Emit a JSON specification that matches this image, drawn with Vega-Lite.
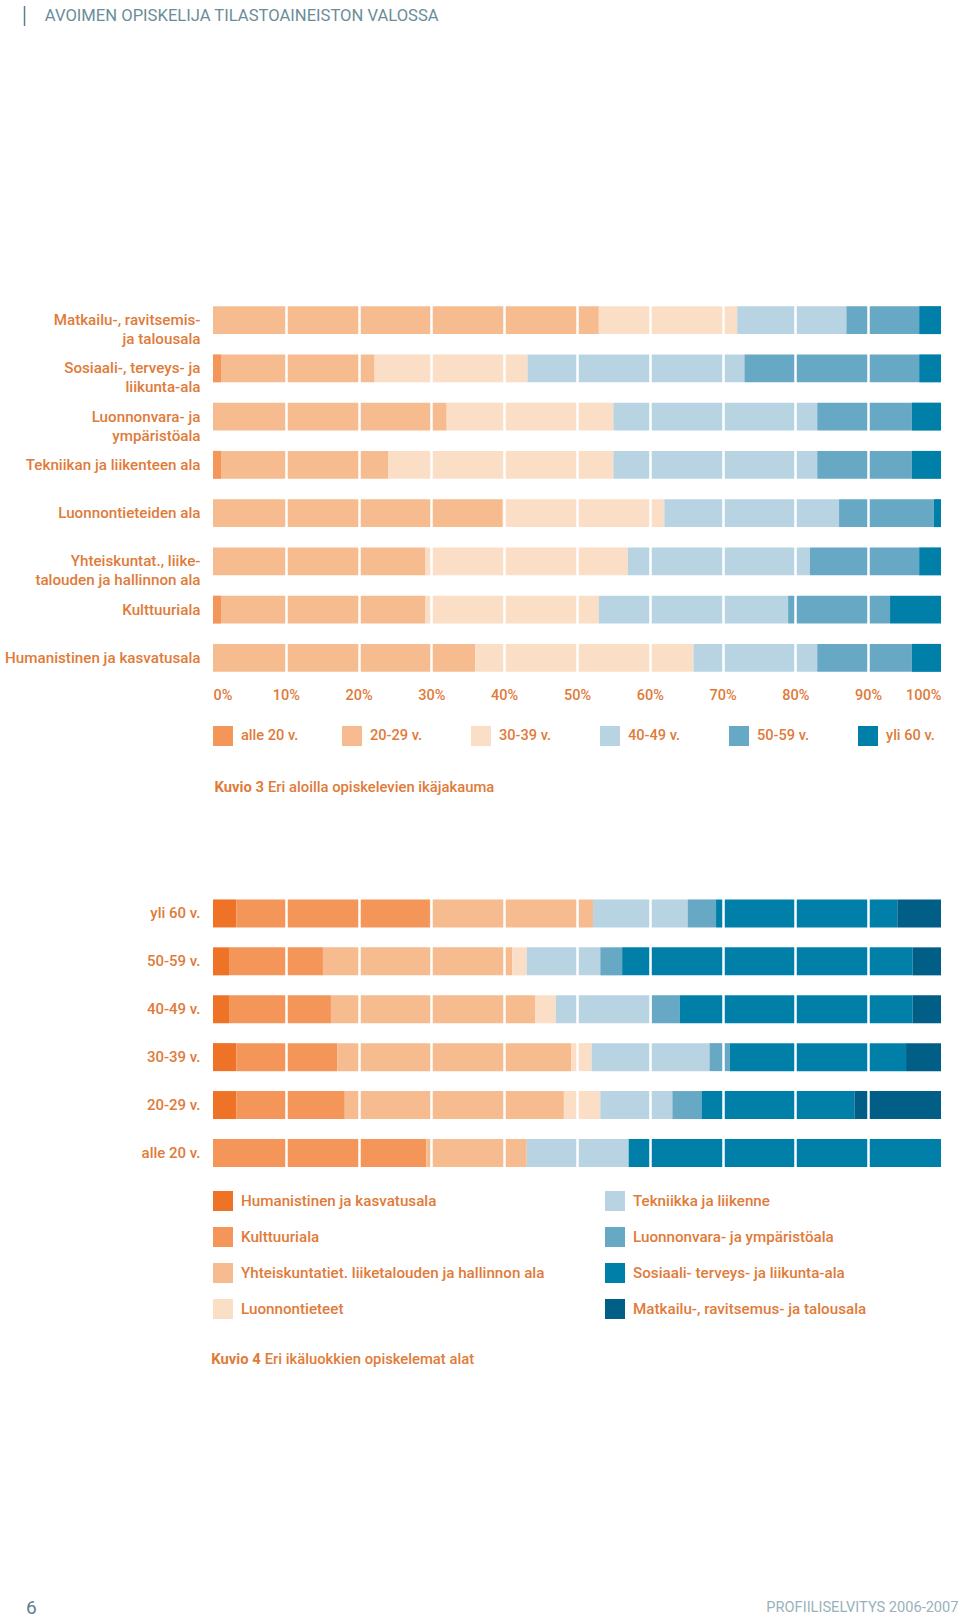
{
  "$schema": "https://vega.github.io/schema/vega-lite/v6.json",
  "background": "white",
  "padding": {"left": 4, "top": 5, "right": 0, "bottom": 0},
  "autosize": {"type": "pad"},
  "config": {
    "view": {"stroke": null},
    "font": "Roboto",
    "text": {"font": "Roboto"},
    "axis": {"labelFont": "Roboto"}
  },
  "datasets": {
    "ikajakauma": [
      {"ala": "Matkailu-, ravitsemis- ja talousala", "ika": "alle 20 v.", "osuus": 0},
      {"ala": "Matkailu-, ravitsemis- ja talousala", "ika": "20-29 v.", "osuus": 53.0},
      {"ala": "Matkailu-, ravitsemis- ja talousala", "ika": "30-39 v.", "osuus": 19.0},
      {"ala": "Matkailu-, ravitsemis- ja talousala", "ika": "40-49 v.", "osuus": 15.0},
      {"ala": "Matkailu-, ravitsemis- ja talousala", "ika": "50-59 v.", "osuus": 10.0},
      {"ala": "Matkailu-, ravitsemis- ja talousala", "ika": "yli 60 v.", "osuus": 3.0},
      {"ala": "Sosiaali-, terveys- ja liikunta-ala", "ika": "alle 20 v.", "osuus": 1.1},
      {"ala": "Sosiaali-, terveys- ja liikunta-ala", "ika": "20-29 v.", "osuus": 21.1},
      {"ala": "Sosiaali-, terveys- ja liikunta-ala", "ika": "30-39 v.", "osuus": 21.0},
      {"ala": "Sosiaali-, terveys- ja liikunta-ala", "ika": "40-49 v.", "osuus": 29.8},
      {"ala": "Sosiaali-, terveys- ja liikunta-ala", "ika": "50-59 v.", "osuus": 24.0},
      {"ala": "Sosiaali-, terveys- ja liikunta-ala", "ika": "yli 60 v.", "osuus": 3.0},
      {"ala": "Luonnonvara- ja ympäristöala", "ika": "alle 20 v.", "osuus": 0},
      {"ala": "Luonnonvara- ja ympäristöala", "ika": "20-29 v.", "osuus": 32.1},
      {"ala": "Luonnonvara- ja ympäristöala", "ika": "30-39 v.", "osuus": 22.9},
      {"ala": "Luonnonvara- ja ympäristöala", "ika": "40-49 v.", "osuus": 28.0},
      {"ala": "Luonnonvara- ja ympäristöala", "ika": "50-59 v.", "osuus": 13.0},
      {"ala": "Luonnonvara- ja ympäristöala", "ika": "yli 60 v.", "osuus": 4.0},
      {"ala": "Tekniikan ja liikenteen ala", "ika": "alle 20 v.", "osuus": 1.1},
      {"ala": "Tekniikan ja liikenteen ala", "ika": "20-29 v.", "osuus": 23.0},
      {"ala": "Tekniikan ja liikenteen ala", "ika": "30-39 v.", "osuus": 30.9},
      {"ala": "Tekniikan ja liikenteen ala", "ika": "40-49 v.", "osuus": 28.0},
      {"ala": "Tekniikan ja liikenteen ala", "ika": "50-59 v.", "osuus": 13.0},
      {"ala": "Tekniikan ja liikenteen ala", "ika": "yli 60 v.", "osuus": 4.0},
      {"ala": "Luonnontieteiden ala", "ika": "alle 20 v.", "osuus": 0},
      {"ala": "Luonnontieteiden ala", "ika": "20-29 v.", "osuus": 39.8},
      {"ala": "Luonnontieteiden ala", "ika": "30-39 v.", "osuus": 22.2},
      {"ala": "Luonnontieteiden ala", "ika": "40-49 v.", "osuus": 24.0},
      {"ala": "Luonnontieteiden ala", "ika": "50-59 v.", "osuus": 13.0},
      {"ala": "Luonnontieteiden ala", "ika": "yli 60 v.", "osuus": 1.0},
      {"ala": "Yhteiskuntat., liiketalouden ja hallinnon ala", "ika": "alle 20 v.", "osuus": 0},
      {"ala": "Yhteiskuntat., liiketalouden ja hallinnon ala", "ika": "20-29 v.", "osuus": 29.2},
      {"ala": "Yhteiskuntat., liiketalouden ja hallinnon ala", "ika": "30-39 v.", "osuus": 27.8},
      {"ala": "Yhteiskuntat., liiketalouden ja hallinnon ala", "ika": "40-49 v.", "osuus": 25.0},
      {"ala": "Yhteiskuntat., liiketalouden ja hallinnon ala", "ika": "50-59 v.", "osuus": 15.0},
      {"ala": "Yhteiskuntat., liiketalouden ja hallinnon ala", "ika": "yli 60 v.", "osuus": 3.0},
      {"ala": "Kulttuuriala", "ika": "alle 20 v.", "osuus": 1.1},
      {"ala": "Kulttuuriala", "ika": "20-29 v.", "osuus": 28.1},
      {"ala": "Kulttuuriala", "ika": "30-39 v.", "osuus": 23.8},
      {"ala": "Kulttuuriala", "ika": "40-49 v.", "osuus": 26.0},
      {"ala": "Kulttuuriala", "ika": "50-59 v.", "osuus": 14.0},
      {"ala": "Kulttuuriala", "ika": "yli 60 v.", "osuus": 7.0},
      {"ala": "Humanistinen ja kasvatusala", "ika": "alle 20 v.", "osuus": 0},
      {"ala": "Humanistinen ja kasvatusala", "ika": "20-29 v.", "osuus": 36.0},
      {"ala": "Humanistinen ja kasvatusala", "ika": "30-39 v.", "osuus": 30.0},
      {"ala": "Humanistinen ja kasvatusala", "ika": "40-49 v.", "osuus": 17.0},
      {"ala": "Humanistinen ja kasvatusala", "ika": "50-59 v.", "osuus": 13.0},
      {"ala": "Humanistinen ja kasvatusala", "ika": "yli 60 v.", "osuus": 4.0}
    ],
    "alat": [
      {"ikaluokka": "yli 60 v.", "ala": "Humanistinen ja kasvatusala", "osuus": 3.2},
      {"ikaluokka": "yli 60 v.", "ala": "Kulttuuriala", "osuus": 26.6},
      {"ikaluokka": "yli 60 v.", "ala": "Yhteiskuntatiet. liiketalouden ja hallinnon ala", "osuus": 22.4},
      {"ikaluokka": "yli 60 v.", "ala": "Luonnontieteet", "osuus": 0},
      {"ikaluokka": "yli 60 v.", "ala": "Tekniikka ja liikenne", "osuus": 13.0},
      {"ikaluokka": "yli 60 v.", "ala": "Luonnonvara- ja ympäristöala", "osuus": 3.9},
      {"ikaluokka": "yli 60 v.", "ala": "Sosiaali- terveys- ja liikunta-ala", "osuus": 24.9},
      {"ikaluokka": "yli 60 v.", "ala": "Matkailu-, ravitsemus- ja talousala", "osuus": 6.0},
      {"ikaluokka": "50-59 v.", "ala": "Humanistinen ja kasvatusala", "osuus": 2.2},
      {"ikaluokka": "50-59 v.", "ala": "Kulttuuriala", "osuus": 12.9},
      {"ikaluokka": "50-59 v.", "ala": "Yhteiskuntatiet. liiketalouden ja hallinnon ala", "osuus": 26.0},
      {"ikaluokka": "50-59 v.", "ala": "Luonnontieteet", "osuus": 2.0},
      {"ikaluokka": "50-59 v.", "ala": "Tekniikka ja liikenne", "osuus": 10.1},
      {"ikaluokka": "50-59 v.", "ala": "Luonnonvara- ja ympäristöala", "osuus": 3.0},
      {"ikaluokka": "50-59 v.", "ala": "Sosiaali- terveys- ja liikunta-ala", "osuus": 39.9},
      {"ikaluokka": "50-59 v.", "ala": "Matkailu-, ravitsemus- ja talousala", "osuus": 3.9},
      {"ikaluokka": "40-49 v.", "ala": "Humanistinen ja kasvatusala", "osuus": 2.2},
      {"ikaluokka": "40-49 v.", "ala": "Kulttuuriala", "osuus": 14.0},
      {"ikaluokka": "40-49 v.", "ala": "Yhteiskuntatiet. liiketalouden ja hallinnon ala", "osuus": 28.1},
      {"ikaluokka": "40-49 v.", "ala": "Luonnontieteet", "osuus": 2.8},
      {"ikaluokka": "40-49 v.", "ala": "Tekniikka ja liikenne", "osuus": 13.2},
      {"ikaluokka": "40-49 v.", "ala": "Luonnonvara- ja ympäristöala", "osuus": 3.8},
      {"ikaluokka": "40-49 v.", "ala": "Sosiaali- terveys- ja liikunta-ala", "osuus": 32.0},
      {"ikaluokka": "40-49 v.", "ala": "Matkailu-, ravitsemus- ja talousala", "osuus": 3.9},
      {"ikaluokka": "30-39 v.", "ala": "Humanistinen ja kasvatusala", "osuus": 3.2},
      {"ikaluokka": "30-39 v.", "ala": "Kulttuuriala", "osuus": 13.9},
      {"ikaluokka": "30-39 v.", "ala": "Yhteiskuntatiet. liiketalouden ja hallinnon ala", "osuus": 32.1},
      {"ikaluokka": "30-39 v.", "ala": "Luonnontieteet", "osuus": 2.8},
      {"ikaluokka": "30-39 v.", "ala": "Tekniikka ja liikenne", "osuus": 16.2},
      {"ikaluokka": "30-39 v.", "ala": "Luonnonvara- ja ympäristöala", "osuus": 2.8},
      {"ikaluokka": "30-39 v.", "ala": "Sosiaali- terveys- ja liikunta-ala", "osuus": 24.2},
      {"ikaluokka": "30-39 v.", "ala": "Matkailu-, ravitsemus- ja talousala", "osuus": 4.8},
      {"ikaluokka": "20-29 v.", "ala": "Humanistinen ja kasvatusala", "osuus": 3.2},
      {"ikaluokka": "20-29 v.", "ala": "Kulttuuriala", "osuus": 14.9},
      {"ikaluokka": "20-29 v.", "ala": "Yhteiskuntatiet. liiketalouden ja hallinnon ala", "osuus": 30.1},
      {"ikaluokka": "20-29 v.", "ala": "Luonnontieteet", "osuus": 5.0},
      {"ikaluokka": "20-29 v.", "ala": "Tekniikka ja liikenne", "osuus": 9.9},
      {"ikaluokka": "20-29 v.", "ala": "Luonnonvara- ja ympäristöala", "osuus": 4.0},
      {"ikaluokka": "20-29 v.", "ala": "Sosiaali- terveys- ja liikunta-ala", "osuus": 21.0},
      {"ikaluokka": "20-29 v.", "ala": "Matkailu-, ravitsemus- ja talousala", "osuus": 11.9},
      {"ikaluokka": "alle 20 v.", "ala": "Humanistinen ja kasvatusala", "osuus": 0},
      {"ikaluokka": "alle 20 v.", "ala": "Kulttuuriala", "osuus": 29.3},
      {"ikaluokka": "alle 20 v.", "ala": "Yhteiskuntatiet. liiketalouden ja hallinnon ala", "osuus": 13.8},
      {"ikaluokka": "alle 20 v.", "ala": "Luonnontieteet", "osuus": 0},
      {"ikaluokka": "alle 20 v.", "ala": "Tekniikka ja liikenne", "osuus": 14.0},
      {"ikaluokka": "alle 20 v.", "ala": "Luonnonvara- ja ympäristöala", "osuus": 0},
      {"ikaluokka": "alle 20 v.", "ala": "Sosiaali- terveys- ja liikunta-ala", "osuus": 42.9},
      {"ikaluokka": "alle 20 v.", "ala": "Matkailu-, ravitsemus- ja talousala", "osuus": 0}
    ],
    "ikaryhmat": [
      {"ika": "alle 20 v."}, {"ika": "20-29 v."}, {"ika": "30-39 v."},
      {"ika": "40-49 v."}, {"ika": "50-59 v."}, {"ika": "yli 60 v."}
    ],
    "alaluokat": [
      {"ala": "Humanistinen ja kasvatusala", "ryhma": "vasen"},
      {"ala": "Kulttuuriala", "ryhma": "vasen"},
      {"ala": "Yhteiskuntatiet. liiketalouden ja hallinnon ala", "ryhma": "vasen"},
      {"ala": "Luonnontieteet", "ryhma": "vasen"},
      {"ala": "Tekniikka ja liikenne", "ryhma": "oikea"},
      {"ala": "Luonnonvara- ja ympäristöala", "ryhma": "oikea"},
      {"ala": "Sosiaali- terveys- ja liikunta-ala", "ryhma": "oikea"},
      {"ala": "Matkailu-, ravitsemus- ja talousala", "ryhma": "oikea"}
    ]
  },
  "spacing": 269,
  "vconcat": [
    {
      "width": 728,
      "height": 20,
      "data": {"values": [{"otsikko": "AVOIMEN OPISKELIJA TILASTOAINEISTON VALOSSA"}]},
      "layer": [
        {
          "mark": {"type": "rule", "color": "#5E808C", "strokeWidth": 1.5},
          "encoding": {
            "x": {"datum": -25.89, "type": "quantitative", "scale": {"domain": [0, 100], "nice": false, "zero": false}, "axis": null}
          }
        },
        {
          "mark": {"type": "text", "align": "left", "baseline": "middle", "fontSize": 16.6, "color": "#6B8D99"},
          "encoding": {
            "x": {"datum": -23.1, "type": "quantitative"},
            "text": {"field": "otsikko"}
          }
        }
      ]
    },
    {
      "spacing": 18,
      "vconcat": [
        {
          "width": 728,
          "height": 386,
          "data": {"name": "ikajakauma"},
          "transform": [{"window": [{"op": "row_number", "as": "jarj"}], "groupby": ["ala"]}],
          "mark": {"type": "bar"},
          "encoding": {
            "y": {
              "field": "ala", "type": "nominal",
              "sort": ["Matkailu-, ravitsemis- ja talousala", "Sosiaali-, terveys- ja liikunta-ala", "Luonnonvara- ja ympäristöala", "Tekniikan ja liikenteen ala", "Luonnontieteiden ala", "Yhteiskuntat., liiketalouden ja hallinnon ala", "Kulttuuriala", "Humanistinen ja kasvatusala"],
              "scale": {"paddingInner": 0.42, "paddingOuter": 0.21},
              "axis": {
                "title": null, "domain": false, "ticks": false,
                "labelColor": "#E07B3A", "labelFontSize": 15.2, "labelFontWeight": 500, "labelPadding": 13,
                "labelLineHeight": 19, "labelLimit": 0,
                "minExtent": 200, "maxExtent": 200,
                "labelExpr": "datum.label == 'Matkailu-, ravitsemis- ja talousala' ? ['Matkailu-, ravitsemis-', 'ja talousala'] : datum.label == 'Sosiaali-, terveys- ja liikunta-ala' ? ['Sosiaali-, terveys- ja', 'liikunta-ala'] : datum.label == 'Luonnonvara- ja ympäristöala' ? ['Luonnonvara- ja', 'ympäristöala'] : datum.label == 'Yhteiskuntat., liiketalouden ja hallinnon ala' ? ['Yhteiskuntat., liike-', 'talouden ja hallinnon ala'] : datum.label"
              }
            },
            "x": {
              "field": "osuus", "type": "quantitative", "stack": "zero",
              "scale": {"domain": [0, 100], "nice": false},
              "axis": {
                "title": null, "values": [0, 10, 20, 30, 40, 50, 60, 70, 80, 90, 100],
                "labelExpr": "datum.value + '%'",
                "domain": false, "ticks": false, "labelFlush": true,
                "labelColor": "#E07B3A", "labelFontSize": 14.5, "labelFontWeight": 500, "labelPadding": 6,
                "grid": true, "gridColor": "white", "gridWidth": 2.5,
                "gridOpacity": {"condition": {"test": "datum.value === 0 || datum.value === 100", "value": 0}, "value": 1},
                "zindex": 1, "minExtent": 26, "maxExtent": 26
              }
            },
            "order": {"field": "jarj", "type": "quantitative", "sort": "ascending"},
            "color": {
              "field": "ika", "type": "nominal",
              "scale": {
                "domain": ["alle 20 v.", "20-29 v.", "30-39 v.", "40-49 v.", "50-59 v.", "yli 60 v.", "Humanistinen ja kasvatusala", "Kulttuuriala", "Yhteiskuntatiet. liiketalouden ja hallinnon ala", "Luonnontieteet", "Tekniikka ja liikenne", "Luonnonvara- ja ympäristöala", "Sosiaali- terveys- ja liikunta-ala", "Matkailu-, ravitsemus- ja talousala"],
                "range": ["#F4965A", "#F6BC90", "#FBDEC6", "#B8D4E2", "#67A8C5", "#0080A8", "#EE7326", "#F4965A", "#F6BC90", "#FBDEC6", "#B8D4E2", "#67A8C5", "#0080A8", "#005E87"]
              },
              "legend": null
            }
          }
        },
        {
          "spacing": 32,
          "vconcat": [
            {
              "width": 665,
              "height": 20,
              "data": {"name": "ikaryhmat"},
              "encoding": {
                "x": {
                  "field": "ika", "type": "nominal",
                  "sort": ["alle 20 v.", "20-29 v.", "30-39 v.", "40-49 v.", "50-59 v.", "yli 60 v."],
                  "scale": {"type": "point", "padding": 0.0775},
                  "axis": null
                }
              },
              "layer": [
                {
                  "mark": {"type": "square", "size": 400, "filled": true, "opacity": 1},
                  "encoding": {
                    "color": {"field": "ika", "type": "nominal", "legend": null}
                  }
                },
                {
                  "mark": {"type": "text", "align": "left", "baseline": "middle", "dx": 18, "fontSize": 14.6, "fontWeight": 500, "color": "#E07B3A"},
                  "encoding": {"text": {"field": "ika"}}
                }
              ]
            },
            {
              "spacing": 91.5,
              "vconcat": [
                {
                  "width": 728,
                  "height": 20,
                  "data": {"values": [{"kuvio": "Kuvio 3", "teksti": "Eri aloilla opiskelevien ikäjakauma"}]},
                  "encoding": {
                    "x": {"datum": 7.28, "type": "quantitative", "scale": {"domain": [0, 100], "nice": false, "zero": false}, "axis": null}
                  },
                  "layer": [
                    {
                      "mark": {"type": "text", "align": "right", "baseline": "middle", "dx": -2, "fontSize": 14.8, "fontWeight": "bold", "color": "#E07B3A"},
                      "encoding": {"text": {"field": "kuvio"}}
                    },
                    {
                      "mark": {"type": "text", "align": "left", "baseline": "middle", "dx": 2, "fontSize": 14.8, "fontWeight": 500, "color": "#E07B3A"},
                      "encoding": {"text": {"field": "teksti"}}
                    }
                  ]
                },
                {
                  "spacing": 5.5,
                  "vconcat": [
                    {
                      "width": 728,
                      "height": 287.4,
                      "data": {"name": "alat"},
                      "transform": [{"window": [{"op": "row_number", "as": "jarj"}], "groupby": ["ikaluokka"]}],
                      "mark": {"type": "bar"},
                      "encoding": {
                        "y": {
                          "field": "ikaluokka", "type": "nominal",
                          "sort": ["yli 60 v.", "50-59 v.", "40-49 v.", "30-39 v.", "20-29 v.", "alle 20 v."],
                          "scale": {"paddingInner": 0.415, "paddingOuter": 0.2075},
                          "axis": {
                            "title": null, "domain": false, "ticks": false,
                            "labelColor": "#E07B3A", "labelFontSize": 15, "labelFontWeight": 500, "labelPadding": 13,
                            "minExtent": 200, "maxExtent": 200
                          }
                        },
                        "x": {
                          "field": "osuus", "type": "quantitative", "stack": "zero",
                          "scale": {"domain": [0, 100], "nice": false},
                          "axis": {
                            "title": null, "values": [10, 20, 30, 40, 50, 60, 70, 80, 90],
                            "labels": false, "domain": false, "ticks": false,
                            "grid": true, "gridColor": "white", "gridWidth": 2.5,
                            "zindex": 1, "minExtent": 0, "maxExtent": 0
                          }
                        },
                        "order": {"field": "jarj", "type": "quantitative", "sort": "ascending"},
                        "color": {"field": "ala", "type": "nominal", "legend": null}
                      }
                    },
                    {
                      "spacing": 22.5,
                      "vconcat": [
                        {
                          "width": 728,
                          "height": 144,
                          "data": {"name": "alaluokat"},
                          "resolve": {"scale": {"y": "independent"}},
                          "layer": [
                            {
                              "transform": [{"filter": {"field": "ryhma", "equal": "vasen"}}],
                              "encoding": {
                                "x": {"datum": 1.374, "type": "quantitative", "scale": {"domain": [0, 100], "nice": false, "zero": false}, "axis": null},
                                "y": {"field": "ala", "type": "nominal", "sort": null, "scale": {"type": "point", "padding": 0.5}, "axis": null}
                              },
                              "layer": [
                                {
                                  "mark": {"type": "square", "size": 400, "filled": true, "opacity": 1},
                                  "encoding": {"color": {"field": "ala", "type": "nominal", "legend": null}}
                                },
                                {
                                  "mark": {"type": "text", "align": "left", "baseline": "middle", "dx": 18, "fontSize": 15.2, "fontWeight": 500, "color": "#E07B3A"},
                                  "encoding": {"text": {"field": "ala"}}
                                }
                              ]
                            },
                            {
                              "transform": [{"filter": {"field": "ryhma", "equal": "oikea"}}],
                              "encoding": {
                                "x": {"datum": 55.22, "type": "quantitative"},
                                "y": {"field": "ala", "type": "nominal", "sort": null, "scale": {"type": "point", "padding": 0.5}, "axis": null}
                              },
                              "layer": [
                                {
                                  "mark": {"type": "square", "size": 400, "filled": true, "opacity": 1},
                                  "encoding": {"color": {"field": "ala", "type": "nominal", "legend": null}}
                                },
                                {
                                  "mark": {"type": "text", "align": "left", "baseline": "middle", "dx": 18, "fontSize": 15.2, "fontWeight": 500, "color": "#E07B3A"},
                                  "encoding": {"text": {"field": "ala"}}
                                }
                              ]
                            }
                          ]
                        },
                        {
                          "spacing": 228,
                          "vconcat": [
                            {
                              "width": 728,
                              "height": 20,
                              "data": {"values": [{"kuvio": "Kuvio 4", "teksti": "Eri ikäluokkien opiskelemat alat"}]},
                              "encoding": {
                                "x": {"datum": 6.83, "type": "quantitative", "scale": {"domain": [0, 100], "nice": false, "zero": false}, "axis": null}
                              },
                              "layer": [
                                {
                                  "mark": {"type": "text", "align": "right", "baseline": "middle", "dx": -2, "fontSize": 14.8, "fontWeight": "bold", "color": "#E07B3A"},
                                  "encoding": {"text": {"field": "kuvio"}}
                                },
                                {
                                  "mark": {"type": "text", "align": "left", "baseline": "middle", "dx": 2, "fontSize": 14.8, "fontWeight": 500, "color": "#E07B3A"},
                                  "encoding": {"text": {"field": "teksti"}}
                                }
                              ]
                            },
                            {
                              "width": 728,
                              "height": 20,
                              "data": {"values": [{"sivu": "6", "julkaisu": "PROFIILISELVITYS 2006-2007"}]},
                              "layer": [
                                {
                                  "mark": {"type": "text", "align": "left", "baseline": "middle", "fontSize": 19, "color": "#5E808C"},
                                  "encoding": {
                                    "x": {"datum": -25.69, "type": "quantitative", "scale": {"domain": [0, 100], "nice": false, "zero": false}, "axis": null},
                                    "text": {"field": "sivu"}
                                  }
                                },
                                {
                                  "mark": {"type": "text", "align": "right", "baseline": "middle", "fontSize": 14.6, "color": "#9AB1BB"},
                                  "encoding": {
                                    "x": {"datum": 102.4, "type": "quantitative"},
                                    "text": {"field": "julkaisu"}
                                  }
                                }
                              ]
                            }
                          ]
                        }
                      ]
                    }
                  ]
                }
              ]
            }
          ]
        }
      ]
    }
  ]
}
